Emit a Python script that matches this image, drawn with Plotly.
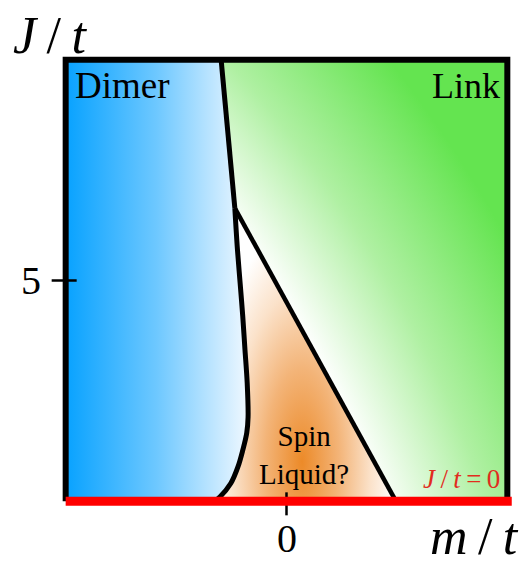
import math

import plotly.graph_objects as go

# Phase diagram in the (m/t, J/t) plane.
BOX_M = [-5.0, 5.0]
BOX_J = [0.0, 10.0]

# Dimer boundary, from the top edge down to J/t = 0 (index 1 is the triple point).
DIMER_M = [-1.48, -1.17, -1.11, -1.05, -0.99, -0.94, -0.89, -0.87, -0.90, -0.99, -1.10, -1.26, -1.51, -1.64]
DIMER_J = [10.0, 6.64, 5.69, 4.94, 4.18, 3.43, 2.68, 1.91, 1.55, 1.16, 0.78, 0.41, 0.10, 0.0]

# Spin liquid / link boundary, from the triple point to J/t = 0.
SL_M = [-1.17, 2.48]
SL_J = [6.64, 0.0]

X_TICKS = [0]
Y_TICKS = [5]

SERIF = "Liberation Serif"
BLUE = "rgb(8,162,255)"
GREEN = "rgb(100,228,80)"
ORANGE = "rgb(236,138,40)"


def radial_frame(cm, cj, hm, hj):
    """Two zero-area stubs that pin the bounding box of a radial fill gradient."""
    xs = [None, cm - hm, cm - hm + 0.5, None, cm + hm - 0.5, cm + hm]
    ys = [None, cj - hj, cj - hj, None, cj + hj, cj + hj]
    return xs, ys


fig = go.Figure()

# Dimer: horizontal blue -> white
dimer_m = [BOX_M[0], BOX_M[0]] + DIMER_M
dimer_j = [BOX_J[0], BOX_J[1]] + DIMER_J
fig.add_trace(go.Scatter(
    x=dimer_m, y=dimer_j, mode="lines", fill="toself", line=dict(width=0),
    fillgradient=dict(type="horizontal", start=BOX_M[0], stop=max(DIMER_M),
                      colorscale=[[0, BLUE], [0.5, "rgb(110,200,255)"], [1, "rgb(240,248,255)"]]),
    hoverinfo="skip",
))

# Link: white near the spin liquid, green towards the upper right
link_m = [DIMER_M[0], BOX_M[1], BOX_M[1], SL_M[1], SL_M[0]]
link_j = [DIMER_J[0], BOX_J[1], BOX_J[0], SL_J[1], SL_J[0]]
ux, uy = 2 / math.sqrt(5), 1 / math.sqrt(5)
white_d = 4.6 / math.sqrt(5)    # 2m + J = 4.6 is white
full_d = 16.0 / math.sqrt(5)    # 2m + J = 16 is full green
far = 25.0
cm, cj = 1.0 - far * ux, 2.6 - far * uy
h = far + (full_d - white_d) + 0.5
fx, fy = radial_frame(cm, cj, h, h)
fig.add_trace(go.Scatter(
    x=link_m + fx, y=link_j + fy, mode="lines", fill="toself", line=dict(width=0),
    fillgradient=dict(type="radial", colorscale=[
        [0, "white"], [far / h, "white"],
        [(far + 0.45 * (full_d - white_d)) / h, "rgb(175,240,162)"],
        [(far + full_d - white_d) / h, GREEN], [1, GREEN]]),
    hoverinfo="skip",
))

# Spin liquid: orange blob near the bottom
spin_m = DIMER_M[1:] + [SL_M[1]]
spin_j = DIMER_J[1:] + [SL_J[1]]
fx, fy = radial_frame(0.35, 0.89, 2.4, 6.0)
fig.add_trace(go.Scatter(
    x=spin_m + fx, y=spin_j + fy, mode="lines", fill="toself", line=dict(width=0),
    fillgradient=dict(type="radial", colorscale=[
        [0, ORANGE], [0.35, "rgb(243,180,120)"], [0.65, "rgb(251,226,202)"],
        [0.9, "white"], [1, "white"]]),
    hoverinfo="skip",
))

# thin red outlines of link and spin liquid regions
for xs, ys in [(link_m, link_j), (spin_m, spin_j)]:
    fig.add_trace(go.Scatter(x=xs + [xs[0]], y=ys + [ys[0]], mode="lines",
                             line=dict(color="red", width=1), hoverinfo="skip"))

# black phase boundaries
fig.add_trace(go.Scatter(x=DIMER_M[:2], y=DIMER_J[:2], mode="lines",
                         line=dict(color="black", width=5), hoverinfo="skip"))
fig.add_trace(go.Scatter(x=DIMER_M[1:], y=DIMER_J[1:], mode="lines",
                         line=dict(color="black", width=5, shape="spline"), hoverinfo="skip"))
fig.add_trace(go.Scatter(x=SL_M, y=SL_J, mode="lines",
                         line=dict(color="black", width=4.5), hoverinfo="skip"))
fig.add_trace(go.Scatter(
    x=[BOX_M[0], BOX_M[0], BOX_M[1], BOX_M[1]], y=[BOX_J[0], BOX_J[1], BOX_J[1], BOX_J[0]],
    mode="lines", line=dict(color="black", width=6), hoverinfo="skip",
))

shapes = []
for v in Y_TICKS:
    shapes.append(dict(type="line", xref="x", yref="y", xsizemode="pixel", xanchor=BOX_M[0],
                       x0=-14, x1=11, y0=v, y1=v, line=dict(color="black", width=2.5)))
for v in X_TICKS:
    shapes.append(dict(type="line", xref="x", yref="y", ysizemode="pixel", yanchor=BOX_J[0],
                       y0=-14, y1=9, x0=v, x1=v, line=dict(color="black", width=2.5)))
# J/t = 0 line
shapes.append(dict(type="line", xref="x", yref="y", x0=BOX_M[0], x1=BOX_M[1] + 0.1,
                   y0=BOX_J[0], y1=BOX_J[0], line=dict(color="red", width=9)))

ann = []
for v in Y_TICKS:
    ann.append(dict(x=BOX_M[0], y=v, text=str(v), xanchor="right", xshift=-23,
                    font=dict(size=40)))
for v in X_TICKS:
    ann.append(dict(x=v, y=BOX_J[0], text=str(v), yshift=-37, font=dict(size=40)))
ann += [
    dict(x=BOX_M[0], y=BOX_J[1], text="<i>J</i>\u2009/\u2009<i>t</i>", xshift=-16, yshift=24,
         font=dict(size=52)),
    dict(x=BOX_M[1], y=BOX_J[0], text="<i>m</i>\u2009/\u2009<i>t</i>", xshift=-33, yshift=-35,
         font=dict(size=52)),
    dict(x=BOX_M[0], y=BOX_J[1], text="Dimer", xanchor="left", xshift=7, yshift=-26,
         font=dict(size=37)),
    dict(x=BOX_M[1], y=BOX_J[1], text="Link", xanchor="right", xshift=-5, yshift=-26,
         font=dict(size=36)),
    dict(x=X_TICKS[0], y=BOX_J[0], text="Spin<br>Liquid?", xshift=17, yshift=46,
         font=dict(size=29)),
    dict(x=BOX_M[1], y=BOX_J[0], text="<i>J</i>\u2009/\u2009<i>t</i>\u2009=\u20090", xanchor="right",
         xshift=-5, yshift=22, font=dict(size=27, color="rgb(225,45,30)")),
]
for a in ann:
    a.update(xref="x", yref="y", showarrow=False)
    a["font"].setdefault("color", "black")
    a["font"]["family"] = SERIF

# the page adds an 8 px body margin, so the figure is 8 px smaller than the window
fig.update_layout(
    width=520, height=557,
    margin=dict(l=40, r=3, t=34, b=46),
    paper_bgcolor="white", plot_bgcolor="white",
    showlegend=False,
    xaxis=dict(range=[-5.4, 5.4], visible=False, fixedrange=True),
    yaxis=dict(range=[-0.4, 10.4], visible=False, fixedrange=True),
    shapes=shapes, annotations=ann,
)
fig.write_html("out.html")
